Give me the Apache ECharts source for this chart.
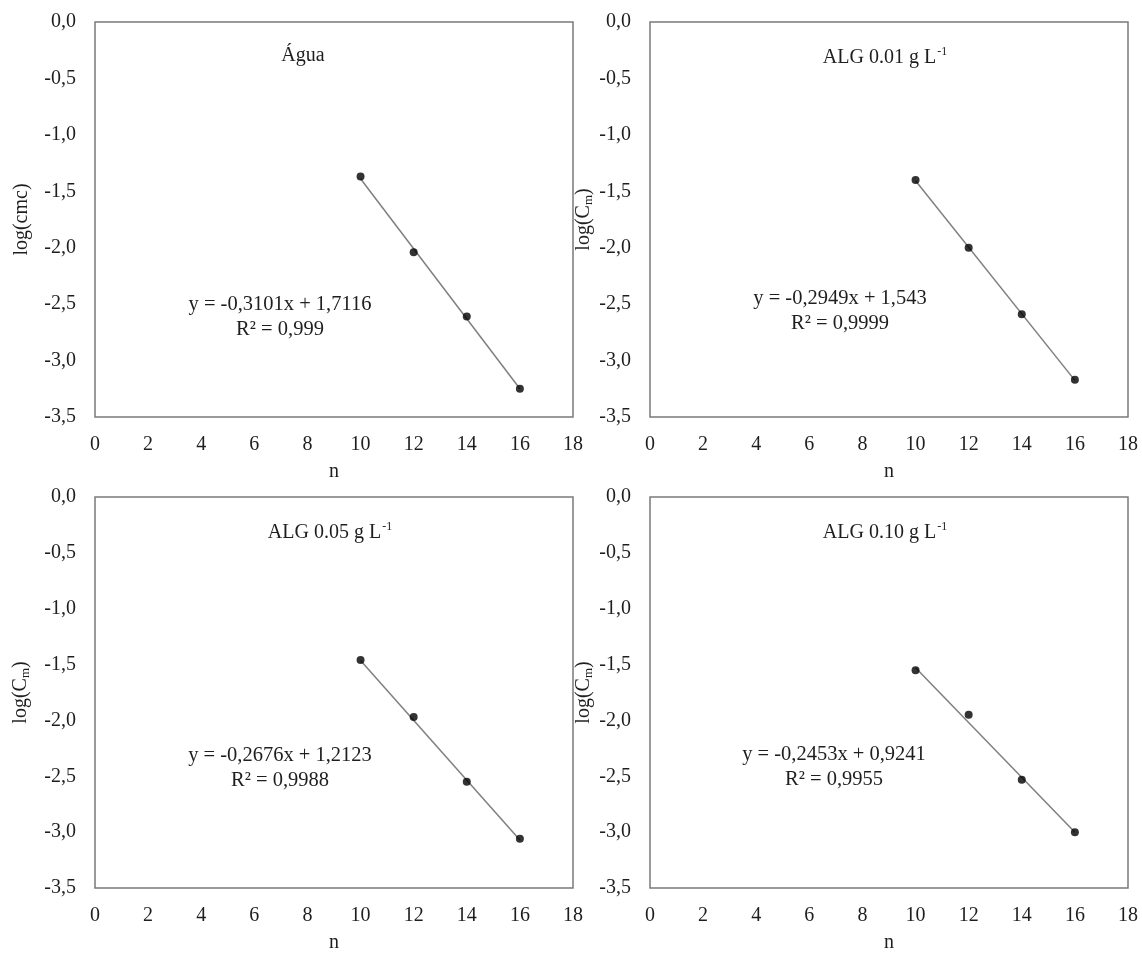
<!DOCTYPE html>
<html>
<head>
<meta charset="utf-8">
<script src="https://cdn.jsdelivr.net/npm/echarts@6/dist/echarts.min.js"></script>
<style>
  html, body { margin: 0; padding: 0; background: #fff; }
  #chart { width: 1142px; height: 954px; }
</style>
</head>
<body>
<div id="chart"></div>
<script>
// Chain length n and log critical micelle concentration, four media
const nValues = [10, 12, 14, 16];
const panelTitles = ['Água', 'ALG 0.01 g L', 'ALG 0.05 g L', 'ALG 0.10 g L'];
const titleSup = ['', '-1', '-1', '-1'];
const yNames = ['log(cmc)', 'log(C{sub|m})', 'log(C{sub|m})', 'log(C{sub|m})'];
const logAgua = [-1.37, -2.04, -2.61, -3.25];
const logAlg001 = [-1.40, -2.00, -2.59, -3.17];
const logAlg005 = [-1.46, -1.97, -2.55, -3.06];
const logAlg010 = [-1.55, -1.95, -2.53, -3.00];
const fitSlope = [-0.3101, -0.2949, -0.2676, -0.2453];
const fitIntercept = [1.7116, 1.543, 1.2123, 0.9241];
const fitR2 = ['0,999', '0,9999', '0,9988', '0,9955'];
const xTicks = { min: 0, max: 18, interval: 2 };
const yTicks = { min: -3.5, max: 0, interval: 0.5 };

const seriesData = [logAgua, logAlg001, logAlg005, logAlg010];
const FONT = '"Liberation Serif", "Times New Roman", serif';
const INK = '#1e1e1e';

// panel layout: [left, top]
const panels = [[95, 22], [650, 22], [95, 497], [650, 497]];
const W = 478, H = 395;
// title centre x and equation anchor (relative to panel)
const titleX = [203, 230, 230, 230];
const eqPos = [[180, 265], [185, 259], [180, 241], [179, 240]];

const grids = [], xAxes = [], yAxes = [], series = [], titles = [];

panels.forEach((p, i) => {
  grids.push({
    left: p[0], top: p[1], width: W, height: H,
    show: true, borderColor: '#7a7a7a', borderWidth: 1.5, backgroundColor: 'transparent'
  });
  xAxes.push({
    type: 'value', gridIndex: i, min: xTicks.min, max: xTicks.max, interval: xTicks.interval,
    name: 'n', nameLocation: 'middle', nameGap: 45,
    nameTextStyle: { fontFamily: FONT, fontSize: 20, color: INK },
    axisLine: { show: false }, axisTick: { show: false }, splitLine: { show: false },
    axisLabel: { margin: 18, fontFamily: FONT, fontSize: 20, color: INK }
  });
  yAxes.push({
    type: 'value', gridIndex: i, min: yTicks.min, max: yTicks.max, interval: yTicks.interval,
    name: yNames[i], nameLocation: 'middle', nameRotate: 90, nameGap: i % 2 === 0 ? 63 : 55,
    nameTextStyle: {
      fontFamily: FONT, fontSize: 20, color: INK,
      rich: { sub: { fontFamily: FONT, fontSize: 13, color: INK, padding: [9, 0, 0, 0] } }
    },
    axisLine: { show: false }, axisTick: { show: false }, splitLine: { show: false },
    axisLabel: {
      margin: 19, fontFamily: FONT, fontSize: 20, color: INK, padding: [5, 0, 0, 0],
      formatter: v => v.toFixed(1).replace('.', ',')
    }
  });
  // regression line over the measured range
  const x0 = nValues[0], x1 = nValues[nValues.length - 1];
  series.push({
    type: 'line', xAxisIndex: i, yAxisIndex: i, silent: true, symbol: 'none',
    lineStyle: { color: '#7f7f7f', width: 1.5 },
    data: [[x0, fitSlope[i] * x0 + fitIntercept[i]], [x1, fitSlope[i] * x1 + fitIntercept[i]]],
    z: 2
  });
  series.push({
    type: 'scatter', xAxisIndex: i, yAxisIndex: i, symbol: 'circle', symbolSize: 8,
    itemStyle: { color: '#000' },
    data: nValues.map((n, k) => [n, seriesData[i][k]]),
    z: 3
  });
  // panel title
  titles.push({
    text: titleSup[i] ? '{t|' + panelTitles[i] + '}{s|' + titleSup[i] + '}' : '{t|' + panelTitles[i] + '}',
    left: p[0] + titleX[i], top: p[1] + 19, textAlign: 'center',
    textStyle: {
      fontWeight: 'normal',
      rich: {
        t: { fontFamily: FONT, fontSize: 20, fontWeight: 'normal', color: INK },
        s: { fontFamily: FONT, fontSize: 12, fontWeight: 'normal', color: INK, padding: [0, 0, 11, 1] }
      }
    }
  });
  // fit equation
  const slopeTxt = fitSlope[i].toString().replace('.', ',');
  const intTxt = fitIntercept[i].toString().replace('.', ',');
  titles.push({
    text: 'y = ' + slopeTxt + 'x + ' + intTxt + '\nR² = ' + fitR2[i],
    left: p[0] + eqPos[i][0], top: p[1] + eqPos[i][1], textAlign: 'center',
    textStyle: { fontFamily: FONT, fontSize: 20.5, fontWeight: 'normal', color: INK, lineHeight: 25, align: 'center' }
  });
});

const chart = echarts.init(document.getElementById('chart'), null, { renderer: 'canvas' });
chart.setOption({
  animation: false,
  backgroundColor: '#fff',
  title: titles,
  grid: grids,
  xAxis: xAxes,
  yAxis: yAxes,
  series: series
});
</script>
</body>
</html>
